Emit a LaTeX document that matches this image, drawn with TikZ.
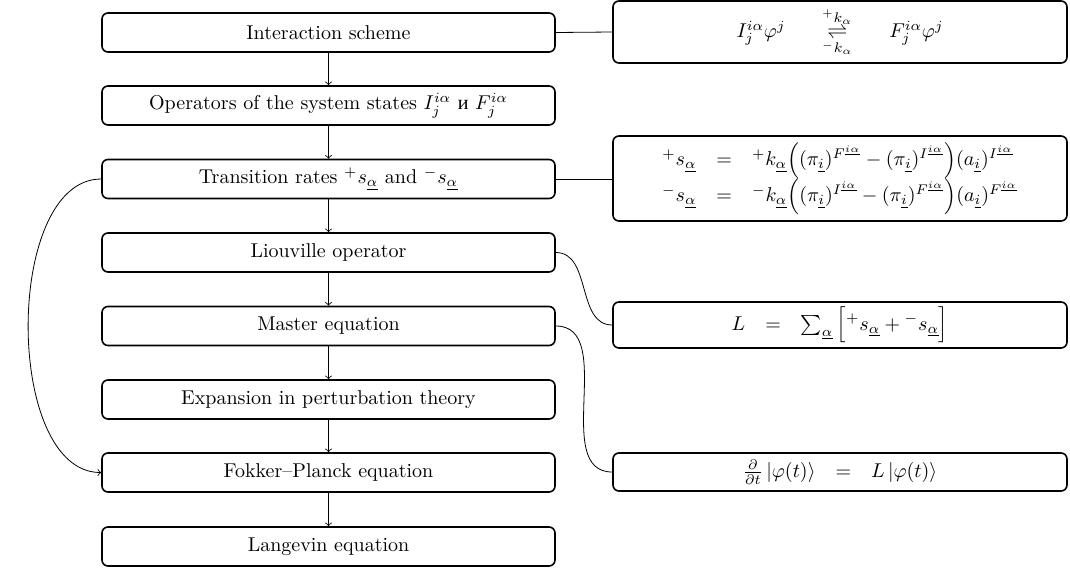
\documentclass[tikz,border=0pt]{standalone}
\usepackage{amsmath}
\usepackage{fontspec}
\newfontfamily\cyrfont{Liberation Serif}
\begin{document}
\begin{tikzpicture}[x=0.5pt,y=-0.5pt,
  lbox/.style={draw,thick,rounded corners=3pt,minimum width=226.5pt,minimum height=19.5pt,inner sep=2pt,align=center},
  rbox/.style={draw,thick,rounded corners=3pt,minimum width=227pt,inner sep=2pt,align=center},
  arr/.style={->,thin},
  link/.style={thin}]
\useasboundingbox (0,0) rectangle (1070,568);
\node[lbox] (a) at (328.5,32.5) {Interaction scheme};
\node[lbox] (b) at (328.5,105.5) {Operators of the system states $I_j^{i\alpha}$ {\cyrfont и} $F_j^{i\alpha}$};
\node[lbox] (c) at (328.5,179) {Transition rates ${}^{+}s_{\underline{\alpha}}$ and ${}^{-}s_{\underline{\alpha}}$};
\node[lbox] (d) at (328.5,252.5) {Liouville operator};
\node[lbox] (e) at (328.5,326) {Master equation};
\node[lbox] (f) at (328.5,399.5) {Expansion in perturbation theory};
\node[lbox] (g) at (328.5,472.5) {Fokker--Planck equation};
\node[lbox] (h) at (328.5,546.5) {Langevin equation};

\node[rbox,minimum height=31pt] (ra) at (840,32) {$I_j^{i\alpha}\varphi^j \quad\;\; \underset{{}^{-}k_{\alpha}}{\overset{{}^{+}k_{\alpha}}{\rightleftharpoons}} \quad\;\; F_j^{i\alpha}\varphi^j$};
\node[rbox,minimum height=42.5pt] (rc) at (840,178.5) {$\begin{array}{rcl}
{}^{+}s_{\underline{\alpha}} &=& {}^{+}k_{\underline{\alpha}}\Big((\pi_{\underline{i}})^{F^{\underline{i\alpha}}}-(\pi_{\underline{i}})^{I^{\underline{i\alpha}}}\Big)(a_{\underline{i}})^{I^{\underline{i\alpha}}}\\
{}^{-}s_{\underline{\alpha}} &=& {}^{-}k_{\underline{\alpha}}\Big((\pi_{\underline{i}})^{I^{\underline{i\alpha}}}-(\pi_{\underline{i}})^{F^{\underline{i\alpha}}}\Big)(a_{\underline{i}})^{F^{\underline{i\alpha}}}
\end{array}$};
\node[rbox,minimum height=23pt] (rd) at (840,325) {$\begin{array}{rcl} L &=& \sum_{\underline{\alpha}}\Big[{}^{+}s_{\underline{\alpha}}+{}^{-}s_{\underline{\alpha}}\Big]\end{array}$};
\node[rbox,minimum height=19pt] (re) at (840,472) {$\begin{array}{rcl} \tfrac{\partial}{\partial t}\left|\varphi(t)\right\rangle &=& L\left|\varphi(t)\right\rangle\end{array}$};

\draw[arr] (a) -- (b);
\draw[arr] (b) -- (c);
\draw[arr] (c) -- (d);
\draw[arr] (d) -- (e);
\draw[arr] (e) -- (f);
\draw[arr] (f) -- (g);
\draw[arr] (g) -- (h);

\draw[link] (a.east) -- (ra.west);
\draw[link] (c.east) -- (c.east -| rc.west);
\draw[link] (d.east) to[out=0,in=180] (rd.west);
\draw[link] (e.east) to[out=0,in=180] (re.west);
\draw[arr] (c.west) to[out=180,in=180,looseness=0.85] (g.west);
\end{tikzpicture}
\end{document}
